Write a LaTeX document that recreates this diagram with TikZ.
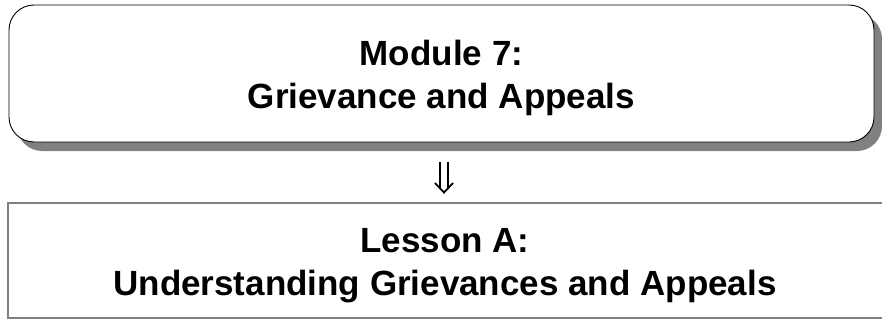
\documentclass[tikz,border=0pt]{standalone}
\usepackage{fontspec}
\setmainfont{Liberation Sans}
\definecolor{shadowgray}{RGB}{128,128,128}
\begin{document}
\begin{tikzpicture}[x=1pt,y=-1pt,
  titletext/.style={font=\fontsize{35}{43}\selectfont\bfseries, inner sep=0pt, anchor=base},
  modulebox/.style={draw=black, line width=0.9pt, fill=white, rounded corners=25pt},
  shadowbox/.style={fill=shadowgray, rounded corners=25pt},
  lessonbox/.style={draw=shadowgray, line width=1.4pt, fill=white},
  arrowline/.style={draw=black, line width=1.8pt}
]
\useasboundingbox (0,0) rectangle (882,321);
% module box with shadow
\fill[shadowbox] (17,14) rectangle (882,151);
\draw[modulebox] (9,5) rectangle (874,142);
\node[titletext] (m1) at (441.5,65) {Module 7:};
\node[titletext] (m2) at (441.5,108) {Grievance and Appeals};
% double arrow
\draw[arrowline] (440,162) -- (440,188);
\draw[arrowline] (448,162) -- (448,188);
\draw[arrowline, line join=miter] (435,183) -- (444,192.5) -- (453,183);
% lesson box
\draw[lessonbox] (8,203) rectangle (892,318);
\node[titletext] (l1) at (445,252) {Lesson A:};
\node[titletext] (l2) at (445,295) {Understanding Grievances and Appeals};
\end{tikzpicture}
\end{document}
